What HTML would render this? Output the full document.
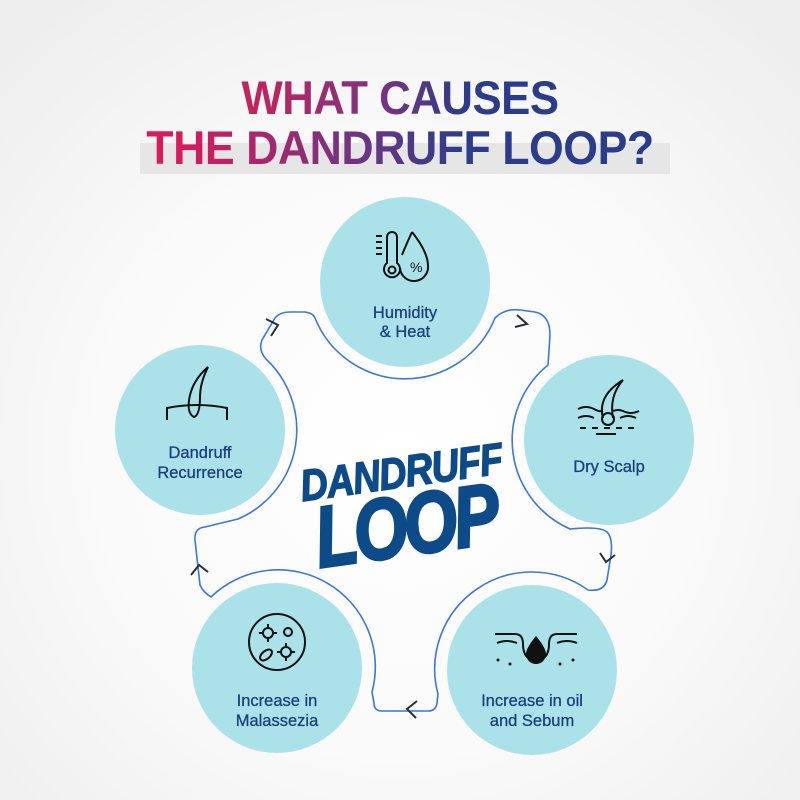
<!DOCTYPE html>
<html><head><meta charset="utf-8"><style>
html,body{margin:0;padding:0}
body{width:800px;height:800px;overflow:hidden;background:radial-gradient(circle at 400px 450px,#ffffff 0,#fafafa 300px,#eeeeee 560px);font-family:"Liberation Sans",sans-serif;position:relative}
.t{position:absolute;left:0;width:800px;text-align:center;font-weight:bold;font-size:47px;letter-spacing:-0.5px;color:transparent}
</style></head><body>
<div style="position:absolute;left:140px;top:143px;width:530px;height:31px;background:#e6e6e6"></div>
<div class="t" style="top:70px;transform:scaleX(0.93);background:linear-gradient(90deg,#d81b5c 0,#c0245f 250px,#7a3380 380px,#2b3c8a 470px);-webkit-background-clip:text;background-clip:text">WHAT CAUSES</div>
<div class="t" style="top:120px;transform:scaleX(0.95);background:linear-gradient(90deg,#d81b5c 0,#d81b5c 170px,#6d3583 360px,#2b3c8a 470px);-webkit-background-clip:text;background-clip:text">THE DANDRUFF LOOP?</div>
<svg width="800" height="800" style="position:absolute;left:0;top:0" font-family="Liberation Sans, sans-serif">
<g fill="#abe2ea">
<circle cx="405" cy="282" r="85"/>
<circle cx="609" cy="440" r="85"/>
<circle cx="532" cy="670" r="85"/>
<circle cx="277" cy="668" r="85"/>
<circle cx="200" cy="430" r="85"/>
</g>
<path fill="none" stroke="#3a78d6" stroke-width="1.6" d="M315,318 A97,97 0 0 0 495,318 Q505,308 520,310 L535,312 Q550,315 550,335 L548,365 A97,97 0 0 0 570,529 Q600,526 607,532 Q613,538 611,555 L607,580 Q604,592 588,590 A97,97 0 0 0 438,694 L437,703 Q436,711 428,711 L382,711 Q374,711 374,703 L372,692 A97,97 0 0 0 211,597 Q203,592 200,585 L195,540 Q194,528 205,527 L238,519 A97,97 0 0 0 266,359 Q258,350 262,340 L275,318 Q280,312 290,312 L305,312 Q313,313 315,318 Z"/>
<g fill="none" stroke="#2c2c3a" stroke-width="2">
<polyline points="266,319 278,325 271,336"/>
<polyline points="517,315 527,324 515,327"/>
<polyline points="600,553 606,562 615,555"/>
<polyline points="417,701 407,709 416,718"/>
<polyline points="191,575 199,565 208,572"/>
</g>
<g fill="#1c3f7c" font-size="16.5" text-anchor="middle" stroke="#1c3f7c" stroke-width="0.3">
<text x="405" y="318">Humidity</text><text x="405" y="337">&amp; Heat</text>
<text x="609" y="472">Dry Scalp</text>
<text x="200" y="458">Dandruff</text><text x="200" y="478">Recurrence</text>
<text x="277" y="706">Increase in</text><text x="277" y="726">Malassezia</text>
<text x="532" y="706">Increase in oil</text><text x="532" y="726">and Sebum</text>
</g>
<g fill="none" stroke="#111" stroke-width="2">
<path d="M387,237 a5,5 0 0 1 10,0 v26 a8,8 0 1 1 -10,0 z"/>
<circle cx="392" cy="270" r="3.5"/>
<path d="M376,236h6M376,242h6M376,248h6M376,254h6"/>
<path d="M412,232 Q428,252 428,266 a14,14 0 0 1 -28,2 M402,255 Q406,245 412,232"/>
<text x="410" y="272" font-size="14" fill="#111" stroke="none">%</text>
<path d="M167,420 v-12 q30,-6 60,0 v12"/>
<path d="M194,417 q-8,-4 -4,-22 q4,-16 18,-28 q-8,16 -8,30 q0,18 -6,20z"/>
<path d="M603,418 q-6,-22 20,-38 q-14,16 -10,38"/>
<circle cx="608" cy="419" r="6"/>
<path d="M578,409 q8,-4 16,0 q5,3 9,2 M613,411 q5,-2 10,0 q8,4 16,0 M578,418 q8,-4 16,0 M620,418 q8,-4 16,0"/>
<path d="M580,428h6M592,428h6M604,428h6M616,428h6M628,428h6M596,434h20"/>
<circle cx="277" cy="642" r="28"/>
<circle cx="268" cy="633" r="5"/><circle cx="288" cy="632" r="4"/><circle cx="286" cy="652" r="5"/>
<ellipse cx="266" cy="655" rx="4" ry="7" transform="rotate(50 266 655)"/>
<path d="M268,624v3M268,639v3M259,633h3M274,633h3M286,643v3M286,658v3M277,652h3M292,652h3"/>
<path d="M495,634 h20 q8,0 8,10 q0,16 13,16 q13,0 13,-16 q0,-10 8,-10 h20 M497,643 q10,-4 20,0 M557,643 q10,-4 20,0"/>
</g>
<path d="M536,636 q-10,12 -10,18 a10,10 0 0 0 20,0 q0,-6 -10,-18z" fill="#111"/>
<g fill="#111"><circle cx="498" cy="660" r="1.5"/><circle cx="510" cy="664" r="1.5"/><circle cx="560" cy="664" r="1.5"/><circle cx="573" cy="660" r="1.5"/></g>
<g transform="rotate(-8 405 500)" fill="#0d4a88" stroke="#0d4a88" font-weight="bold" font-style="italic">
<text x="405" y="487" font-size="44" stroke-width="1.5" text-anchor="middle" transform="translate(405 0) scale(0.86 1) translate(-405 0)" letter-spacing="-1">DANDRUFF</text>
<text x="402" y="555" font-size="86" stroke-width="3" text-anchor="middle" transform="translate(402 0) scale(0.8 1) translate(-402 0)" letter-spacing="-4">LOOP</text>
</g>
</svg>
</body></html>
